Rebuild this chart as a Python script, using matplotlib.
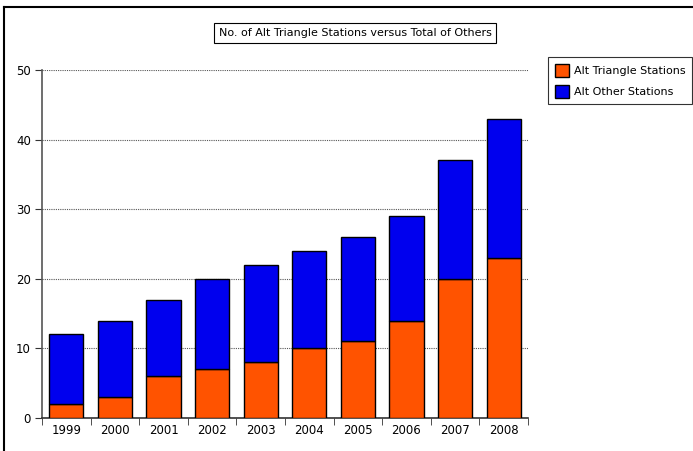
import matplotlib
matplotlib.use("Agg")
import matplotlib.pyplot as plt
import numpy as np
from matplotlib.lines import Line2D

years = ["1999", "2000", "2001", "2002", "2003", "2004", "2005", "2006", "2007", "2008"]
triangle = [2, 3, 6, 7, 8, 10, 11, 14, 20, 23]
others = [10, 11, 11, 13, 14, 14, 15, 15, 17, 20]

orange = "#FF5300"
blue = "#0000EE"

fig = plt.figure(figsize=(6.93, 4.51), dpi=100)
ax = fig.add_axes([42 / 693, 33 / 451, 486 / 693, 348 / 451])

x = np.arange(len(years))
ax.bar(x, triangle, width=0.7, color=orange, edgecolor="black", linewidth=1, zorder=3,
       label="Alt Triangle Stations")
ax.bar(x, others, width=0.7, bottom=triangle, color=blue, edgecolor="black", linewidth=1,
       zorder=3, label="Alt Other Stations")

ax.set_xlim(-0.5, len(years) - 0.5)
ax.set_ylim(0, 50)
ax.set_yticks([0, 10, 20, 30, 40, 50])
ax.yaxis.grid(True, linestyle=(0, (1, 1)), color="#555555", linewidth=0.8, zorder=0)

# year labels centred under bars, ticks at category borders
ax.set_xticks(x)
ax.set_xticklabels(years, fontsize=8.5)
ax.tick_params(axis="x", length=0, pad=4)
ax.set_xticks(np.arange(len(years) + 1) - 0.5, minor=True)
ax.tick_params(axis="x", which="minor", length=5, direction="out", color="#333333")
ax.tick_params(axis="y", length=5, labelsize=8.5, color="#333333", pad=3)

for s in ["top", "right"]:
    ax.spines[s].set_visible(False)
ax.spines["left"].set_color("#555555")
ax.spines["left"].set_linewidth(1.2)
ax.spines["bottom"].set_color("#333333")
ax.spines["bottom"].set_linewidth(1.2)

fig.text(355 / 693, 1 - 33 / 451, "No. of Alt Triangle Stations versus Total of Others",
         ha="center", va="center", fontsize=8,
         bbox=dict(boxstyle="square,pad=0.45", facecolor="white", edgecolor="black", linewidth=0.8))

leg = fig.legend(loc="upper left", bbox_to_anchor=(548 / 693, 1 - 57 / 451), fontsize=8,
                 frameon=True, fancybox=False, handlelength=1.3, handleheight=1.4,
                 borderpad=0.6, labelspacing=0.75, handletextpad=0.45, borderaxespad=0)
leg.get_frame().set_edgecolor("black")
leg.get_frame().set_linewidth(0.8)

# figure border on top and left
fig.add_artist(Line2D([4 / 693, 1], [1 - 7 / 451, 1 - 7 / 451], color="black", linewidth=1.5,
                      transform=fig.transFigure))
fig.add_artist(Line2D([4 / 693, 4 / 693], [0, 1 - 7 / 451], color="black", linewidth=1.5,
                      transform=fig.transFigure))

fig.savefig("out.png", dpi=100)
